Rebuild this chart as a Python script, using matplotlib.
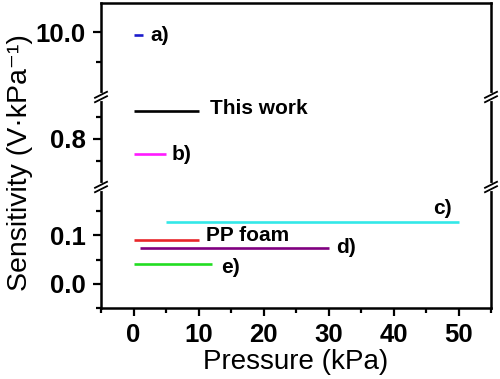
import matplotlib
matplotlib.use("Agg")
import matplotlib.pyplot as plt
from matplotlib.lines import Line2D
from matplotlib.ticker import MultipleLocator, FixedLocator

plt.rcParams['font.family'] = ['Liberation Sans', 'DejaVu Sans']

# data
names = ['a)', 'This work', 'b)', 'c)', 'PP foam', 'd)', 'e)']
x_start = [0.0, 0.0, 0.0, 5.0, 0.0, 1.0, 0.0]
x_end = [1.4, 10.0, 5.0, 50.0, 10.0, 30.0, 12.0]
sens = [9.99, 0.927, 0.732, 0.127, 0.090, 0.075, 0.040]
colors = ['#1c1ccc', '#000000', '#ff1aff', '#33e8e8', '#e8262a', '#800080', '#22dd22']
label_off = [(8, 0), (12, 2), (6, -1), (-16, 14), (8, 5), (8, 0), (10, -3)]
label_ha = ['left', 'left', 'left', 'center', 'left', 'left', 'left']

W, H = 500, 379
fig = plt.figure(figsize=(5, 3.79), dpi=100)

L, R = 101, 491
# segment pixel bounds (top, bottom) and y limits
segs = [(3, 97, (9.78, 10.1), [10.0], [9.9]),
        (97, 187, (0.58, 0.99), [0.8], [0.7, 0.9]),
        (187, 308, (-0.05, 0.2), [0.0, 0.1], [-0.05, 0.05, 0.15])]
ytick_txt = {10.0: '10.0', 0.8: '0.8', 0.0: '0.0', 0.1: '0.1'}

axes = []
for i, (t, b, ylim, major, minor) in enumerate(segs):
    ax = fig.add_axes([L / W, 1 - b / H, (R - L) / W, (b - t) / H])
    ax.set_xlim(-5, 55)
    ax.set_ylim(*ylim)
    ax.yaxis.set_major_locator(FixedLocator(major))
    ax.yaxis.set_minor_locator(FixedLocator(minor))
    ax.set_yticklabels([ytick_txt[v] for v in major], fontsize=18.5, fontweight='bold')
    ax.tick_params(axis='y', which='major', direction='out', length=6, width=1.6, pad=5)
    ax.tick_params(axis='y', which='minor', direction='out', length=3.5, width=1.6)
    for s in ax.spines.values():
        s.set_linewidth(1.8)
    if i > 0:
        ax.spines['top'].set_visible(False)
    if i < 2:
        ax.spines['bottom'].set_visible(False)
        ax.tick_params(axis='x', which='both', bottom=False, labelbottom=False)
    else:
        ax.xaxis.set_major_locator(MultipleLocator(10))
        ax.xaxis.set_minor_locator(MultipleLocator(5))
        ax.tick_params(axis='x', which='major', direction='out', length=6, width=1.6, pad=5,
                       labelsize=18.5)
        ax.tick_params(axis='x', which='minor', direction='out', length=3.5, width=1.6)
        for lb in ax.get_xticklabels():
            lb.set_fontweight('bold')
        ax.set_xlabel('Pressure (kPa)', fontsize=20, labelpad=1)
    for x0, x1, y, c, n, off, ha in zip(x_start, x_end, sens, colors, names, label_off, label_ha):
        if ylim[0] < y < ylim[1]:
            ax.plot([x0, x1], [y, y], color=c, lw=1.9, solid_capstyle='butt')
            ax.annotate(n, xy=(x1, y), xytext=off, textcoords='offset pixels',
                        ha=ha, va='center', fontsize=15, fontweight='bold')
    axes.append(ax)

fig.text(20 / W, 1 - 163 / H, 'Sensitivity (V\u00b7kPa\u207b\u00b9)', rotation=90,
         ha='center', va='center', fontsize=20.5)

# break marks on both spines
for yj in (97, 187):
    for xs in (L, R):
        yf = 1 - yj / H
        fig.add_artist(Line2D([xs / W, xs / W], [yf - 2 / H, yf + 2 / H],
                              color='white', lw=3, transform=fig.transFigure))
        for dy in (-2.2, 2.2):
            fig.add_artist(Line2D([(xs - 6) / W, (xs + 6) / W],
                                  [yf + (dy - 3) / H, yf + (dy + 3) / H],
                                  color='black', lw=1.3, transform=fig.transFigure))

fig.savefig('out.png', dpi=100)
